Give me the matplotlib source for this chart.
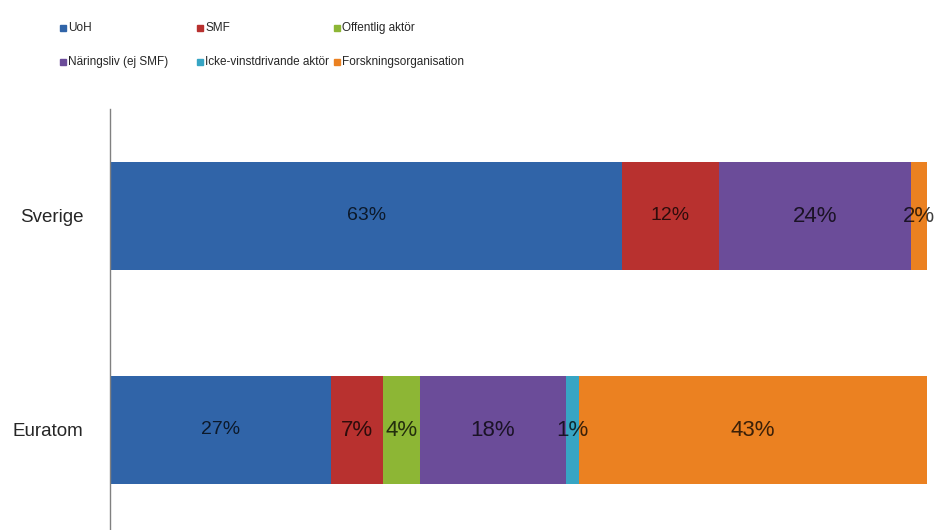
import matplotlib
matplotlib.use("Agg")
import matplotlib.pyplot as plt
from matplotlib.patches import Rectangle

# data (shares in percent)
categories = ["Euratom", "Sverige"]
series = ["UoH", "SMF", "Offentlig aktör", "Näringsliv (ej SMF)",
          "Icke-vinstdrivande aktör", "Forskningsorganisation"]
uoh = [27.0, 62.7]
smf = [6.4, 11.8]
offentlig = [4.5, 0.0]
naringsliv = [17.9, 23.6]
icke = [1.6, 0.0]
forskning = [42.6, 1.9]
labels = {
    "UoH": ["27%", "63%"],
    "SMF": ["7%", "12%"],
    "Offentlig aktör": ["4%", ""],
    "Näringsliv (ej SMF)": ["18%", "24%"],
    "Icke-vinstdrivande aktör": ["1%", ""],
    "Forskningsorganisation": ["43%", "2%"],
}

colors = ["#3064A8", "#B8312F", "#8DB635", "#6B4C99", "#37A5C4", "#EB8121"]
# labels drawn in the larger font in the original
big = {("Euratom", "SMF"), ("Euratom", "Offentlig aktör"), ("Euratom", "Näringsliv (ej SMF)"),
       ("Euratom", "Icke-vinstdrivande aktör"), ("Euratom", "Forskningsorganisation"),
       ("Sverige", "Näringsliv (ej SMF)"), ("Sverige", "Forskningsorganisation")}

plt.rcParams['font.family'] = ['Liberation Sans', 'DejaVu Sans']

fig = plt.figure(figsize=(9.47, 5.30), dpi=100)
ax = fig.add_axes([110 / 947, -7 / 530, 817 / 947, 428 / 530])

values = [uoh, smf, offentlig, naringsliv, icke, forskning]
left = [0.0] * len(categories)
for name, vals, col in zip(series, values, colors):
    ax.barh(range(len(categories)), vals, left=left, height=0.505, color=col, edgecolor="none")
    for i, v in enumerate(vals):
        txt = labels[name][i]
        if txt:
            fs = 16 if (categories[i], name) in big else 14
            ax.text(left[i] + v / 2, i, txt, ha="center", va="center",
                    fontsize=fs, color="black", alpha=0.75, clip_on=False)
    left = [l + v for l, v in zip(left, vals)]

ax.set_xlim(0, 100)
ax.set_ylim(-0.5, 1.5)
ax.set_yticks(range(len(categories)))
ax.set_yticklabels(categories, fontsize=13.5, color="#262626")
ax.tick_params(axis="y", length=0, pad=19)
ax.set_xticks([])
for s in ["top", "right", "bottom"]:
    ax.spines[s].set_visible(False)
ax.spines["left"].set_color("#808080")
ax.spines["left"].set_linewidth(1.0)

# legend laid out like the Excel one: 3 columns, row-major
for k, (name, col) in enumerate(zip(series, colors)):
    row, c = divmod(k, 3)
    x0 = 60 + c * 137
    y0 = 28 + row * 34
    fig.patches.append(Rectangle((x0 / 947, 1 - (y0 + 3) / 530), 6 / 947, 6 / 530,
                                 transform=fig.transFigure, color=col))
    fig.text((x0 + 8) / 947, 1 - y0 / 530, name, ha="left", va="center",
             fontsize=8.5, color="#262626")

fig.savefig("out.png", dpi=100)
